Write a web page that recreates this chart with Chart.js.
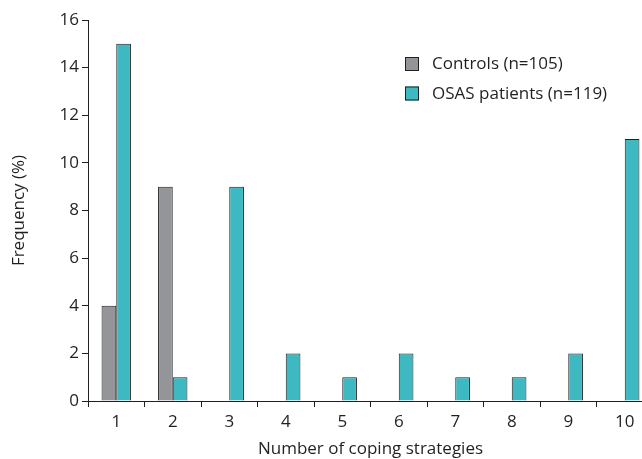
<!DOCTYPE html>
<html>
<head>
<meta charset="utf-8">
<script src="https://cdn.jsdelivr.net/npm/chart.js@4/dist/chart.umd.min.js"></script>
<style>
  html, body { margin: 0; padding: 0; background: #fff; }
  #wrap { width: 642px; height: 459px; overflow: hidden; position: relative; }
  #box { width: 662px; height: 459px; }
</style>
</head>
<body>
<div id="wrap"><div id="box"><canvas id="c"></canvas></div></div>
<script>
const categories = ['1', '2', '3', '4', '5', '6', '7', '8', '9', '10'];
const controls = [4, 9, 0, 0, 0, 0, 0, 0, 0, 0];
const osas = [15, 1, 9, 2, 1, 2, 1, 1, 2, 11];
const seriesNames = ['Controls (n=105)', 'OSAS patients (n=119)'];
const yTicks = [0, 2, 4, 6, 8, 10, 12, 14, 16];

const ink = '#231f20';
const font = '"Open Sans", "Noto Sans", sans-serif';

// legend drawn inside the plot, top right
const innerLegend = {
    id: 'innerLegend',
    afterDraw(chart) {
        const ctx = chart.ctx;
        const x = chart.chartArea.left + 317;
        let y = chart.chartArea.top + 37;
        ctx.save();
        ctx.font = '17px ' + font;
        ctx.textBaseline = 'middle';
        chart.data.datasets.forEach(ds => {
            ctx.fillStyle = ds.backgroundColor;
            ctx.fillRect(x, y, 14, 14);
            ctx.strokeStyle = ink;
            ctx.lineWidth = 1;
            ctx.strokeRect(x + 0.5, y + 0.5, 13, 13);
            ctx.fillStyle = ink;
            ctx.fillText(ds.label, x + 27, y + 7.5);
            y += 29.5;
        });
        ctx.restore();
    }
};

new Chart(document.getElementById('c'), {
    type: 'bar',
    data: {
        labels: categories,
        datasets: [
            { label: seriesNames[0], data: controls, backgroundColor: '#939598', borderColor: ink, borderWidth: 1 },
            { label: seriesNames[1], data: osas, backgroundColor: '#3fb9c1', borderColor: ink, borderWidth: 1 }
        ]
    },
    options: {
        responsive: true,
        maintainAspectRatio: false,
        animation: false,
        layout: { padding: { top: 20, right: 9, left: 0, bottom: 0 } },
        datasets: { bar: { categoryPercentage: 0.52, barPercentage: 1 } },
        plugins: { legend: { display: false }, tooltip: { enabled: false } },
        scales: {
            x: {
                offset: true,
                grid: { offset: true, drawOnChartArea: false, drawTicks: true, tickLength: 6, color: ink },
                border: { display: true, color: ink, width: 1 },
                ticks: { color: ink, font: { family: font, size: 17 }, padding: 5 },
                title: { display: true, text: 'Number of coping strategies', color: ink, font: { family: font, size: 17 }, padding: { top: 0, bottom: 0 } },
                afterFit(scale) { scale.height = 58; }
            },
            y: {
                min: 0,
                max: 16,
                afterBuildTicks(scale) { scale.ticks = yTicks.map(v => ({ value: v })); },
                grid: { drawOnChartArea: false, drawTicks: true, tickLength: 6, color: ink },
                border: { display: true, color: ink, width: 1 },
                ticks: { color: ink, font: { family: font, size: 17 }, padding: 3 },
                title: { display: true, text: 'Frequency (%)', color: ink, font: { family: font, size: 17 }, padding: { top: 9, bottom: 20 } },
                afterFit(scale) { scale.width = 88; }
            }
        }
    },
    plugins: [innerLegend]
});
</script>
</body>
</html>
